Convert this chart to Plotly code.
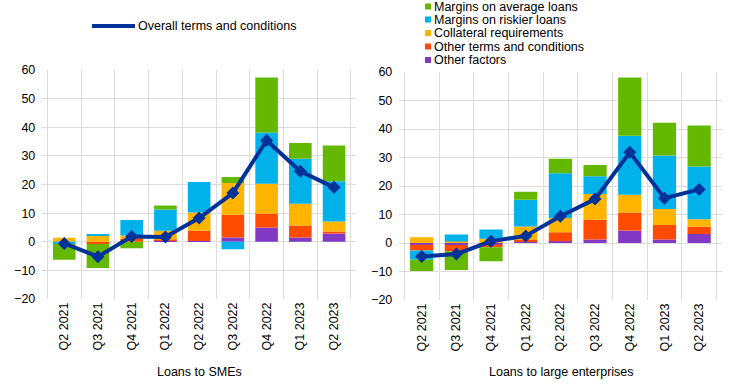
import plotly.graph_objects as go

W, H = 738, 384

categories = ["Q2 2021", "Q3 2021", "Q4 2021", "Q1 2022", "Q2 2022",
              "Q3 2022", "Q4 2022", "Q1 2023", "Q2 2023"]

series_names = ["Other factors", "Other terms and conditions", "Collateral requirements",
                "Margins on riskier loans", "Margins on average loans"]
series_colors = ["#8139c6", "#ff4b00", "#ffb400", "#00b1ea", "#65b800"]

# Loans to SMEs
sme_other_factors = [0, 0, 0, 0.35, 0.25, 1.5, 5.0, 1.5, 2.9]
sme_other_terms = [0, -0.8, 1.0, 0.35, 3.6, 7.9, 4.9, 4.2, 0.7]
sme_collateral = [1.4, 2.2, 1.2, 3.1, 6.4, 11.1, 10.4, 7.6, 3.5]
sme_riskier = [-0.8, 0.35, 5.4, 7.5, 10.6, -2.6, 17.9, 15.7, 14.0]
sme_average = [-5.5, -8.4, -2.3, 1.4, 0, 2.1, 19.2, 5.5, 12.5]
sme_overall = [-0.6, -5.2, 1.8, 1.7, 8.3, 17.0, 35.4, 24.6, 19.0]

# Loans to large enterprises
le_other_factors = [-0.6, -0.7, -0.5, 0.35, 0.6, 1.2, 4.4, 1.2, 3.2]
le_other_terms = [-2.0, -2.2, -1.0, 0.7, 3.2, 7.0, 6.3, 5.1, 2.5]
le_collateral = [2.0, 0.5, 1.5, 4.7, 5.0, 9.0, 6.2, 5.6, 2.6]
le_riskier = [-3.3, 2.5, 3.2, 9.4, 15.7, 6.2, 20.7, 18.8, 18.5]
le_average = [-3.9, -6.6, -4.9, 2.8, 5.1, 4.0, 20.5, 11.5, 14.4]
le_overall = [-4.7, -3.9, 0.6, 2.5, 9.4, 15.4, 31.8, 15.7, 18.8]

y_ticks = [-20, -10, 0, 10, 20, 30, 40, 50, 60]

line_name = "Overall terms and conditions"
panel_titles = ["Loans to SMEs", "Loans to large enterprises"]

FONT = "Liberation Sans, Arial, sans-serif"
FS = 12.5
NAVY = "#003299"
GRID = "#dcdcdc"


def px(x):
    return x / W


def py(y):
    return 1 - y / H


fig = go.Figure()

panels = [
    ([sme_other_factors, sme_other_terms, sme_collateral, sme_riskier, sme_average], sme_overall, "x", "y"),
    ([le_other_factors, le_other_terms, le_collateral, le_riskier, le_average], le_overall, "x2", "y2"),
]

for stacks, overall, xa, ya in panels:
    for name, color, vals in zip(series_names, series_colors, stacks):
        fig.add_trace(go.Bar(x=categories, y=vals, name=name, marker_color=color,
                             marker_line_width=0, xaxis=xa, yaxis=ya, showlegend=False))
    fig.add_trace(go.Scatter(x=categories, y=overall, name=line_name, mode="lines+markers",
                             line=dict(color=NAVY, width=4),
                             marker=dict(symbol="diamond", size=10, color=NAVY),
                             xaxis=xa, yaxis=ya, showlegend=False))

xcommon = dict(type="category", tickson="boundaries", showgrid=True, gridcolor=GRID,
               gridwidth=1, tickangle=-90, ticks="", showline=False, zeroline=False,
               tickfont=dict(family=FONT, size=FS, color="#000000"), automargin=False)
ycommon = dict(range=[-20, 60], tickvals=y_ticks, showgrid=True, gridcolor=GRID,
               gridwidth=1, zeroline=False, showline=False, ticks="",
               ticklabelstandoff=6,
               tickfont=dict(family=FONT, size=FS, color="#000000"), automargin=False)

fig.update_layout(
    width=W, height=H,
    margin=dict(l=0, r=0, t=0, b=0),
    paper_bgcolor="white", plot_bgcolor="white",
    barmode="relative", bargap=0.33,
    showlegend=False,
    font=dict(family=FONT, size=FS, color="#000000"),
    xaxis=dict(domain=[px(42.3), px(356)], anchor="y", **xcommon),
    yaxis=dict(domain=[py(299), py(70)], anchor="x", **ycommon),
    xaxis2=dict(domain=[px(399.3), px(721.5)], anchor="y2", **xcommon),
    yaxis2=dict(domain=[py(300), py(72)], anchor="x2", **ycommon),
)

# Panel titles
for title, cx in zip(panel_titles, [199, 561]):
    fig.add_annotation(text=title, x=px(cx), y=py(372), xref="paper", yref="paper",
                       xanchor="center", yanchor="middle", showarrow=False,
                       font=dict(family=FONT, size=FS, color="#000000"))

# Line legend (manual)
fig.add_shape(type="line", xref="paper", yref="paper", x0=px(92), x1=px(135),
              y0=py(26), y1=py(26), line=dict(color=NAVY, width=4))
fig.add_annotation(text=line_name, x=px(136), y=py(26), xref="paper", yref="paper",
                   xanchor="left", yanchor="middle", showarrow=False,
                   font=dict(family=FONT, size=FS, color="#000000"))

# Bar legend (manual), listed top to bottom in reverse stacking order
rows_y = [6.5, 19.5, 33, 46.5, 60]
for (name, color), ry in zip(list(zip(series_names, series_colors))[::-1], rows_y):
    fig.add_shape(type="rect", xref="paper", yref="paper", x0=px(425), x1=px(431),
                  y0=py(ry + 3), y1=py(ry - 3), fillcolor=color, line_width=0)
    fig.add_annotation(text=name, x=px(432), y=py(ry), xref="paper", yref="paper",
                       xanchor="left", yanchor="middle", showarrow=False,
                       font=dict(family=FONT, size=FS, color="#000000"))

# Remove the default page margin so the figure sits at the window's top-left corner
fig.write_html("out.html", config={"displayModeBar": False},
               post_script="document.body.style.margin='0';")
